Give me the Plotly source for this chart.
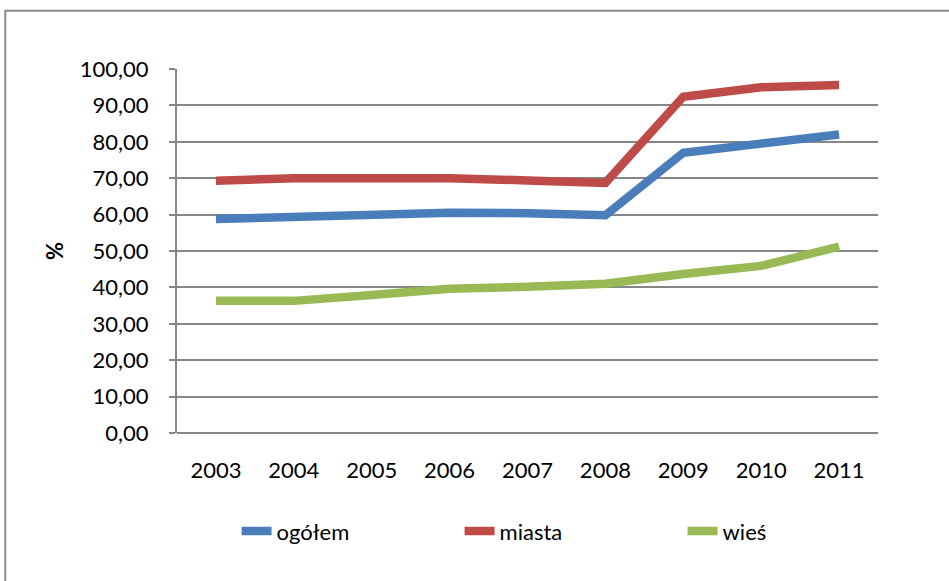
import plotly.graph_objects as go

lata = ["2003", "2004", "2005", "2006", "2007", "2008", "2009", "2010", "2011"]
ogolem = [58.8, 59.4, 60.0, 60.5, 60.4, 59.8, 77.0, 79.6, 82.0]
miasta = [69.3, 70.0, 70.0, 70.0, 69.4, 68.7, 92.4, 95.0, 95.6]
wies = [36.3, 36.3, 37.9, 39.6, 40.2, 41.0, 43.7, 45.9, 51.2]

nazwy = ["ogółem", "miasta", "wieś"]
kolory = ["#4A7EBB", "#BE4B48", "#98B954"]

fig = go.Figure()
for nazwa, wartosci, kolor in zip(nazwy, [ogolem, miasta, wies], kolory):
    fig.add_trace(
        go.Scatter(
            x=lata,
            y=wartosci,
            name=nazwa,
            mode="lines",
            line=dict(color=kolor, width=8.5),
        )
    )

fig.update_layout(
    width=949,
    height=581,
    margin=dict(l=177, r=71, t=69, b=148, autoexpand=False),
    paper_bgcolor="white",
    plot_bgcolor="white",
    separators=",.",
    font=dict(family="Lato, Open Sans, sans-serif", size=22, color="#000000"),
    legend=dict(
        orientation="h",
        x=0.085,
        xanchor="left",
        y=-0.27,
        yanchor="middle",
        entrywidth=178,
        entrywidthmode="pixels",
        font=dict(size=22),
    ),
    shapes=[
        # ramka wykresu
        dict(
            type="rect",
            xref="paper",
            yref="paper",
            x0=-0.245,
            x1=1.12,
            y0=-0.43,
            y1=1.16,
            line=dict(color="#8C8C8C", width=2),
            fillcolor="rgba(0,0,0,0)",
            layer="below",
        )
    ],
)

fig.update_xaxes(
    range=[-0.5, 8.5],
    showgrid=False,
    showline=False,
    ticks="",
    ticklabelstandoff=22,
    automargin=False,
)
fig.update_yaxes(
    range=[0, 100],
    dtick=10,
    tickformat=".2f",
    showgrid=True,
    gridcolor="#868686",
    gridwidth=2,
    showline=True,
    linecolor="#868686",
    linewidth=2,
    ticks="outside",
    ticklen=6,
    tickcolor="#868686",
    tickwidth=2,
    ticklabelstandoff=16,
    zeroline=True,
    zerolinecolor="#868686",
    zerolinewidth=2,
    automargin=False,
    title=dict(text="<b>%</b>", standoff=10, font=dict(size=22)),
)

# bez marginesu strony, zeby wykres zaczynal sie w rogu okna
fig.write_html(
    "out.html",
    config={"displayModeBar": False},
    post_script="document.body.style.margin='0';",
)
